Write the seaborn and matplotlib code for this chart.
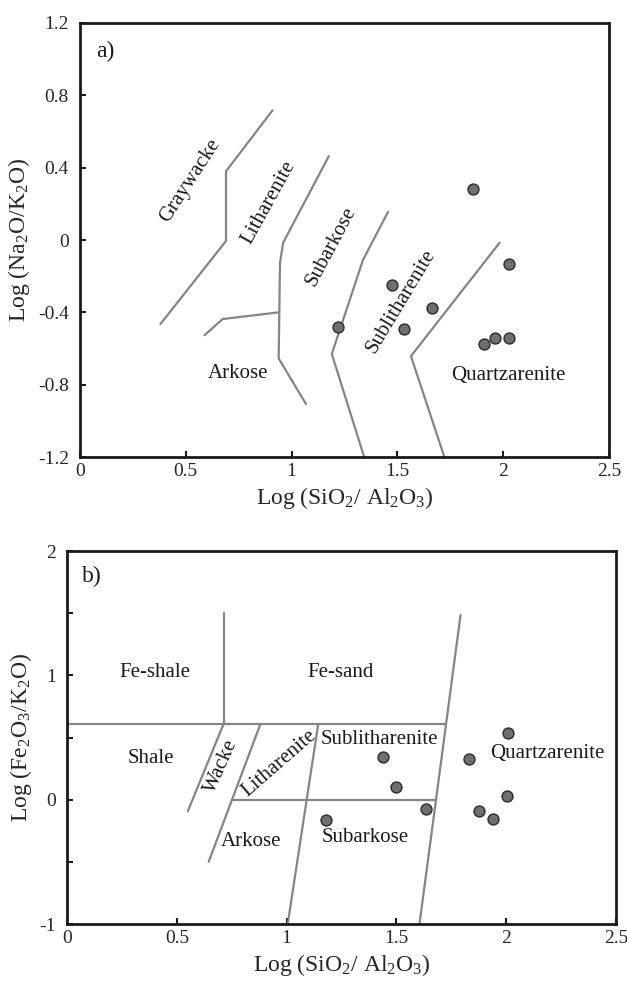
import numpy as np
import pandas as pd
import matplotlib
matplotlib.use("Agg")
import matplotlib.pyplot as plt
import seaborn as sns

# ---------------- data ----------------
# panel a: Log(SiO2/Al2O3) vs Log(Na2O/K2O)
a_x = [1.858, 2.027, 1.475, 1.663, 1.220, 1.530, 1.962, 1.907, 2.027]
a_y = [0.280, -0.135, -0.249, -0.376, -0.480, -0.492, -0.540, -0.577, -0.544]

# panel b: Log(SiO2/Al2O3) vs Log(Fe2O3/K2O)
b_x = [2.009, 1.439, 1.830, 1.497, 2.002, 1.633, 1.874, 1.940, 1.179]
b_y = [0.539, 0.347, 0.331, 0.101, 0.032, -0.072, -0.093, -0.155, -0.165]

# classification boundaries, panel a (Pettijohn et al.)
a_line1_x = [0.38, 0.69, 0.69, 0.91]
a_line1_y = [-0.465, -0.005, 0.38, 0.717]
a_line2_x = [1.176, 0.960, 0.945, 0.939, 1.068]
a_line2_y = [0.464, -0.015, -0.127, -0.655, -0.907]
a_line2b_x = [0.589, 0.674, 0.939]
a_line2b_y = [-0.526, -0.437, -0.400]
a_line3_x = [1.456, 1.337, 1.19, 1.343]
a_line3_y = [0.156, -0.111, -0.63, -1.2]
a_line4_x = [1.983, 1.564, 1.722]
a_line4_y = [-0.015, -0.642, -1.2]

# classification boundaries, panel b (Herron)
b_line1_x = [0.0, 1.724]
b_line1_y = [0.61, 0.61]
b_line2_x = [0.713, 0.713]
b_line2_y = [0.61, 1.5]
b_line3_x = [1.792, 1.605]
b_line3_y = [1.485, -1.0]
b_line4_x = [0.713, 0.55]
b_line4_y = [0.61, -0.093]
b_line5_x = [0.879, 0.645]
b_line5_y = [0.60, -0.50]
b_line6_x = [0.755, 1.682]
b_line6_y = [0.0, 0.0]
b_line7_x = [1.144, 1.005]
b_line7_y = [0.61, -1.0]

a_labels = ["Graywacke", "Litharenite", "Subarkose", "Sublitharenite", "Arkose", "Quartzarenite"]
b_labels = ["Fe-shale", "Fe-sand", "Shale", "Wacke", "Litharenite", "Sublitharenite",
            "Quartzarenite", "Arkose", "Subarkose"]

a_xticks = [0, 0.5, 1, 1.5, 2, 2.5]
a_xticklabels = ["0", "0.5", "1", "1.5", "2", "2.5"]
a_yticks = [-1.2, -0.8, -0.4, 0, 0.4, 0.8, 1.2]
a_yticklabels = ["-1.2", "-0.8", "-0.4", "0", "0.4", "0.8", "1.2"]
b_yticks = [-1, -0.5, 0, 0.5, 1, 1.5, 2]
b_yticklabels = ["-1", "", "0", "", "1", "", "2"]

# ---------------- style ----------------
sns.set_style("ticks")
plt.rcParams["font.family"] = ["Liberation Serif", "DejaVu Serif"]
plt.rcParams["mathtext.fontset"] = "custom"
plt.rcParams["mathtext.rm"] = "Liberation Serif"
plt.rcParams["mathtext.it"] = "Liberation Serif:italic"
plt.rcParams["mathtext.bf"] = "Liberation Serif:bold"

LINE_C = "#858585"
LINE_W = 1.6
PT_FACE = "#6f6f6f"
PT_EDGE = "#2b2b2b"
TICK_FS = 14
LAB_FS = 15
AX_FS = 17

fig = plt.figure(figsize=(6.27, 9.81), dpi=100)
ax_a = fig.add_axes([0.1276, 0.5341, 0.8437, 0.4425])
ax_b = fig.add_axes([0.1069, 0.0581, 0.8756, 0.3802])


def draw_line(ax, xs, ys):
    df = pd.DataFrame({"x": xs, "y": ys, "o": range(len(xs))})
    sns.lineplot(data=df, x="x", y="y", sort=False, estimator=None,
                 color=LINE_C, lw=LINE_W, ax=ax)


def style_axes(ax):
    for s in ax.spines.values():
        s.set_linewidth(2.0)
        s.set_color("#1a1a1a")
    ax.tick_params(axis="both", direction="in", length=4, width=1.5,
                   labelsize=TICK_FS, color="#1a1a1a",
                   top=False, right=False)
    ax.tick_params(axis="x", pad=4)
    ax.tick_params(axis="y", pad=8)


# ---------------- panel a ----------------
for xs, ys in [(a_line1_x, a_line1_y), (a_line2_x, a_line2_y), (a_line2b_x, a_line2b_y),
               (a_line3_x, a_line3_y), (a_line4_x, a_line4_y)]:
    draw_line(ax_a, xs, ys)

sns.scatterplot(x=a_x, y=a_y, ax=ax_a, s=62, color=PT_FACE, edgecolor=PT_EDGE,
                linewidth=1.0, zorder=5, legend=False)

ax_a.set_xlim(0, 2.5)
ax_a.set_ylim(-1.2, 1.2)
ax_a.set_xticks(a_xticks)
ax_a.set_xticklabels(a_xticklabels)
ax_a.set_yticks(a_yticks)
ax_a.set_yticklabels(a_yticklabels)
ax_a.set_xlabel(r"Log (SiO$_2$/ Al$_2$O$_3$)", fontsize=AX_FS, labelpad=4)
ax_a.set_ylabel(r"Log (Na$_2$O/K$_2$O)", fontsize=AX_FS, labelpad=4)
style_axes(ax_a)

a_pos = [(0.519, 0.330, 57), (0.890, 0.205, 61), (1.188, -0.037, 62),
         (1.519, -0.341, 59), (0.746, -0.737, 0), (2.025, -0.747, 0)]
for lab, (x, y, r) in zip(a_labels, a_pos):
    ax_a.text(x, y, lab, fontsize=LAB_FS, rotation=r, ha="center", va="center",
              rotation_mode="anchor", color="#1a1a1a")
ax_a.text(0.075, 1.04, "a)", fontsize=AX_FS, ha="left", va="center", color="#1a1a1a")

# ---------------- panel b ----------------
for xs, ys in [(b_line1_x, b_line1_y), (b_line2_x, b_line2_y), (b_line3_x, b_line3_y),
               (b_line4_x, b_line4_y), (b_line5_x, b_line5_y), (b_line6_x, b_line6_y),
               (b_line7_x, b_line7_y)]:
    draw_line(ax_b, xs, ys)

sns.scatterplot(x=b_x, y=b_y, ax=ax_b, s=62, color=PT_FACE, edgecolor=PT_EDGE,
                linewidth=1.0, zorder=5, legend=False)

ax_b.set_xlim(0, 2.5)
ax_b.set_ylim(-1, 2)
ax_b.set_xticks(a_xticks)
ax_b.set_xticklabels(a_xticklabels)
ax_b.set_yticks(b_yticks)
ax_b.set_yticklabels(b_yticklabels)
ax_b.set_xlabel(r"Log (SiO$_2$/ Al$_2$O$_3$)", fontsize=AX_FS, labelpad=4)
ax_b.set_ylabel(r"Log (Fe$_2$O$_3$/K$_2$O)", fontsize=AX_FS, labelpad=4)
style_axes(ax_b)

b_pos = [(0.399, 1.02, 0), (1.245, 1.02, 0), (0.382, 0.328, 0), (0.705, 0.265, 66),
         (0.965, 0.293, 41), (1.422, 0.488, 0), (2.185, 0.368, 0), (0.837, -0.339, 0),
         (1.358, -0.307, 0)]
for lab, (x, y, r) in zip(b_labels, b_pos):
    ax_b.text(x, y, lab, fontsize=LAB_FS, rotation=r, ha="center", va="center",
              rotation_mode="anchor", color="#1a1a1a")
ax_b.text(0.069, 1.795, "b)", fontsize=AX_FS, ha="left", va="center", color="#1a1a1a")

fig.savefig("out.png", dpi=100)
